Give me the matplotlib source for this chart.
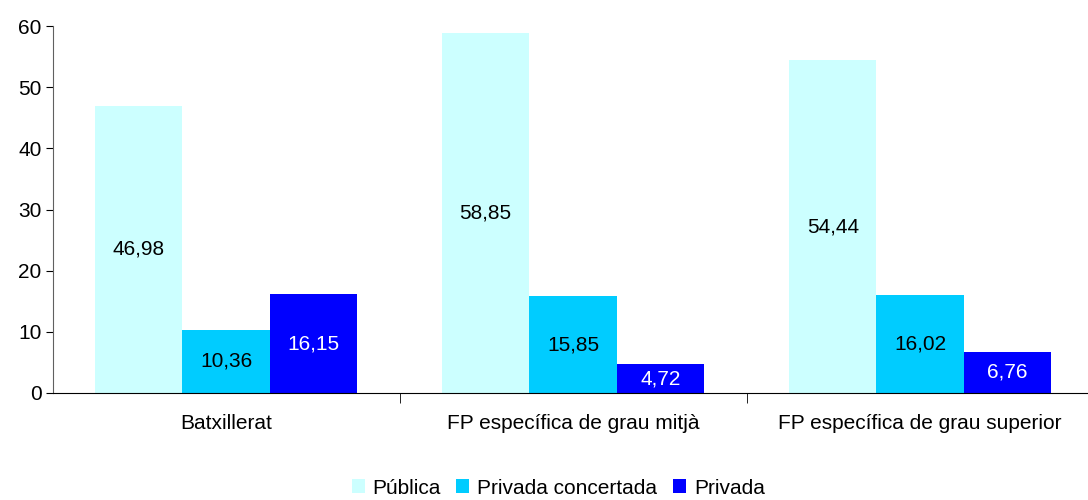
import numpy as np
import matplotlib.pyplot as plt

plt.rcParams['font.family'] = ['Liberation Sans', 'DejaVu Sans']

categories = ['Batxillerat', 'FP específica de grau mitjà', 'FP específica de grau superior']
series_names = ['Pública', 'Privada concertada', 'Privada']
publica = [46.98, 58.85, 54.44]
concertada = [10.36, 15.85, 16.02]
privada = [16.15, 4.72, 6.76]

colors = ['#CCFFFF', '#00CCFF', '#0000FF']
text_colors = ['black', 'black', 'white']
fs = 15

fig = plt.figure(figsize=(10.88, 5), dpi=100)
ax = fig.add_axes([0.0483, 0.214, 0.957, 0.734])

x = np.arange(len(categories))
w = 0.252
for i, (vals, name) in enumerate(zip([publica, concertada, privada], series_names)):
    pos = x + (i - 1) * w
    ax.bar(pos, vals, width=w, color=colors[i], label=name)
    for px, v in zip(pos, vals):
        ax.text(px, v / 2, f'{v:.2f}'.replace('.', ','), ha='center', va='center',
                fontsize=fs, color=text_colors[i])

ax.set_xlim(-0.5, len(categories) - 0.5)
ax.set_ylim(0, 60)
ax.set_yticks(range(0, 61, 10))
ax.tick_params(axis='y', labelsize=fs, direction='out', length=5, pad=3)

# category labels between boundary ticks
ax.set_xticks(x)
ax.set_xticklabels(categories, fontsize=fs)
ax.tick_params(axis='x', length=0, pad=15)
ax.set_xticks([0.5, 1.5], minor=True)
ax.tick_params(axis='x', which='minor', length=7, direction='out')

for s in ['top', 'right']:
    ax.spines[s].set_visible(False)
ax.spines['left'].set_color('#606060')
ax.spines['bottom'].set_color('black')

fig.legend(loc='center', bbox_to_anchor=(0.513, 0.024), ncol=3, frameon=False,
           fontsize=fs, handlelength=0.62, handleheight=0.62, handletextpad=0.38,
           columnspacing=0.75, borderpad=0)

fig.savefig('out.png', dpi=100)
